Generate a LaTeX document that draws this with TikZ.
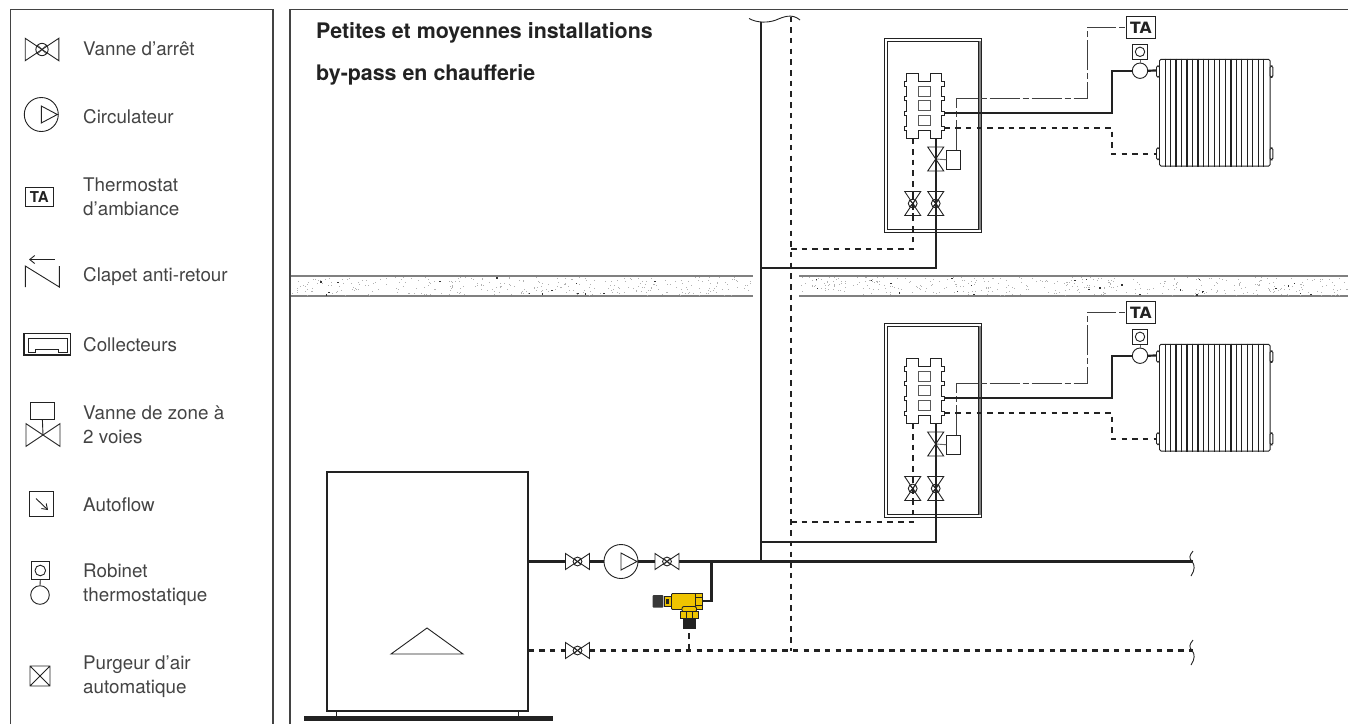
\documentclass[tikz,border=0pt]{standalone}
\usepackage{fontspec}
\setmainfont{TeX Gyre Heros}
\newfontfamily\heavyfont{DejaVu Sans}
\usetikzlibrary{arrows.meta}
\definecolor{ink}{HTML}{222222}
\definecolor{txt}{HTML}{444444}
\definecolor{brass}{HTML}{EFC400}
\tikzset{
  sym/.style={draw=ink,line width=0.9pt},
  frame/.style={draw=ink!85,line width=1.2pt},
  pipe/.style={draw=ink,line width=2.2pt},
  rpipe/.style={draw=ink,line width=2.2pt,dash pattern=on 5.5pt off 5.2pt},
  ctrl/.style={draw=ink,line width=0.8pt,dash pattern=on 30pt off 3pt on 6pt off 3pt},
  wall/.style={draw=black!50,line width=1.3pt},
  lab/.style={anchor=west,inner sep=0pt,text=txt,font=\fontsize{18.8}{24}\selectfont,align=left},
  title/.style={anchor=west,inner sep=0pt,text=ink,font=\fontsize{21.4}{24}\selectfont\bfseries},
  valvesym/.pic={
    \draw[sym,fill=white] (-12,-8)--(-12,8)--(12,-8)--(12,8)--cycle;
    \draw[sym] (0,0) circle (4.4pt);
    \draw[sym,line width=0.6pt] (-3,-3)--(3,3) (-3,3)--(3,-3);
    \coordinate (-w) at (-12,0); \coordinate (-e) at (12,0);
  },
  zonevalve/.pic={
    \draw[sym,fill=white] (-12,-8)--(-12,8)--(12,-8)--(12,8)--cycle;
    \coordinate (-w) at (-12,0); \coordinate (-e) at (12,0); \coordinate (-c) at (0,0);
  },
  pumpsym/.pic={
    \draw[sym,fill=white] (0,0) circle (17pt);
    \draw[sym] (0,-8.5)--(0,8.5)--(16,0)--cycle;
    \coordinate (-w) at (-17,0); \coordinate (-e) at (17,0);
  },
  radiator/.pic={
    \foreach \s in {1,...,19}{
      \pgfmathsetmacro\px{5.47*(\s-1)+5.6}
      \pgfmathsetmacro\lw{ifthenelse(iseven(\s),0.8,\s>12?1.5:1.2)}
      \draw[draw=ink,line width=\lw pt] (\px,-0.8)--(\px,107.6);
    }
    \draw[sym,rounded corners=1.5pt] (0,0) rectangle (110.6,106.8);
    \draw[sym,fill=white,rounded corners=1.5pt] (-3,6.5) rectangle (0,18);
    \draw[sym,fill=white,rounded corners=1.5pt] (-3,88.5) rectangle (0,100.5);
    \draw[sym,fill=white,rounded corners=1.5pt] (110.6,6.5) rectangle (113.3,18);
    \draw[sym,fill=white,rounded corners=1.5pt] (110.6,88.5) rectangle (113.3,100.5);
    \coordinate (-sup) at (-3,11.2); \coordinate (-ret) at (-3,94.7);
  },
}
\newcommand{\floorunit}{%
  % boxes
  \draw[sym] (884.7,38.7) rectangle (981,232);
  \draw[sym,line width=0.7pt] (887,41) rectangle (978.8,229.8);
  \draw[draw=black!50,line width=1.6pt] (979.7,41)--(979.7,230);
  % manifold
  \draw[sym,fill=white] (906.7,73.3)--(918.7,73.3)--(918.7,81.5)--(930,81.5)--(930,73.3)--(941.7,73.3)
    --(941.7,81.5)--(944.5,81.5)--(944.5,86)--(941.7,86)--(941.7,96.5)--(944.5,96.5)--(944.5,100.5)--(941.7,100.5)
    --(941.7,111)--(944.5,111)--(944.5,115)--(941.7,115)--(941.7,126)--(944.5,126)--(944.5,130)--(941.7,130)
    --(941.7,138.3)--(930,138.3)--(930,130)--(918.7,130)--(918.7,138.3)--(906.7,138.3)--(906.7,130)--(904,130)
    --(904,126)--(906.7,126)--(906.7,115)--(904,115)--(904,111)--(906.7,111)--(906.7,100.5)--(904,100.5)--(904,96.5)
    --(906.7,96.5)--(906.7,86)--(904,86)--(904,81.5)--(906.7,81.5)--cycle;
  \foreach \yy in {86,100.7,115.3}{\draw[sym,draw=black!65] (918.7,\yy) rectangle (930,\yy+10);}
  % fixed points
  \coordinate (mret) at (912.7,138.3);
  \coordinate (msup) at (935.7,138.3);
  \coordinate (mout) at (944.5,112.7);
  \coordinate (mrt) at (944.5,127.7);
  % valves
  \pic (zv) at (935.7,159) [rotate=90,yscale=1] {zonevalve};
  \pic (vr) at (912.7,203.5) [rotate=90] {valvesym};
  \pic (vs) at (935.7,203.5) [rotate=90] {valvesym};
  % actuator
  \node[sym,fill=white,minimum width=14pt,minimum height=18.7pt,inner sep=0pt] (act) at (953.7,159.7) {};
  \draw[sym,draw=black!60] (zv-c)--(act.west);
  % pipes
  \draw[pipe,line width=1.9pt] (msup)--(zv-w);
  \draw[pipe,line width=1.9pt] (zv-e)--(vs-w);
  \draw[rpipe] (mret)--(vr-w);
  % TA
  \node[sym,fill=white,minimum width=28.4pt,minimum height=21.3pt,inner sep=0pt,font=\fontsize{15.6}{16}\selectfont\heavyfont\bfseries,text=ink] (ta) at (1140.9,27.4) {TA};
  \coordinate (c1) at (956.7,98.7);
  \coordinate (c2) at (1087,98.7);
  \coordinate (c3) at (1087,27.4);
  \draw[ctrl,draw=black!75] (act.north -| c1)--(c1)--(c2)--(c3)--(ta.west);
  % radiator
  \pic (rad) at (1159.5,59.3) {radiator};
  % thermostatic valve
  \node[sym,fill=white,circle,minimum size=15.4pt,inner sep=0pt] (tv) at (1140,70.7) {};
  \node[sym,fill=white,minimum size=14.7pt,inner sep=0pt] (head) at (1140,51.8) {};
  \node[sym,circle,minimum size=9.4pt,inner sep=0pt] (headc) at (1140,51.8) {};
  \draw[sym,draw=black!60] (head.south)--(tv.north);
  \coordinate (s1) at (1111.7,112.7);
  \coordinate (s2) at (1111.7,70.7);
  \coordinate (r1) at (1111.7,127.7);
  \coordinate (r2) at (1111.7,154);
  \draw[pipe] (mout)--(s1)--(s2)--(tv.west);
  \draw[pipe] (tv.east)--(rad-sup);
  \draw[rpipe] (mrt)--(r1)--(r2)--(rad-ret);
}
\begin{document}
\begin{tikzpicture}[x=1pt,y=-1pt]
\path[use as bounding box,fill=white] (0,0) rectangle (1348,724);
% frames
\draw[frame] (10.5,724)--(10.5,9.5)--(273,9.5)--(273,724);
\draw[frame] (290,724)--(290,9.5)--(1348,9.5);
% legend
\pic (lv) at (42,49.5) [scale=1.4] {valvesym};
\pic (lp) at (41.3,114.5) {pumpsym};
\node[sym,line width=0.8pt,minimum width=28pt,minimum height=19pt,inner sep=0pt,font=\fontsize{15}{15}\selectfont\bfseries,text=ink] (lta) at (39.3,197.2) {TA};
\coordinate (la1) at (54.5,259.5); \coordinate (la2) at (29,259.5);
\draw[sym,-{Straight Barb[length=5pt,width=8pt]}] (la1)--(la2);
\coordinate (lc1) at (25.3,266); \coordinate (lc2) at (25.3,287); \coordinate (lc3) at (59.3,266); \coordinate (lc4) at (59.3,287);
\draw[sym] (lc2)--(lc1)--(lc4)--(lc3);
\draw[sym,line width=1.1pt] (24,333.3) rectangle (70.7,355);
\draw[sym] (28,352)--(28,338.5)--(67.7,338.5)--(67.7,352)--(58,352)--(58,349.5)--(35.7,349.5)--(35.7,352)--cycle;
\node[sym,minimum width=23.3pt,minimum height=17.3pt,inner sep=0pt] (lza) at (42.4,410.7) {};
\pic (lz) at (43,435) [scale=1.42] {zonevalve};
\draw[sym] (lza.south)--(lz-c);
\node[sym,minimum size=24.5pt,inner sep=0pt,line width=1pt] (laf) at (41.5,503.8) {};
\coordinate (lf1) at (36,498.5); \coordinate (lf2) at (48,510);
\draw[sym,-{Straight Barb[length=5pt,width=7pt]}] (lf1)--(lf2);
\node[sym,minimum size=17.5pt,inner sep=0pt] (lrh) at (40.3,570.5) {};
\node[sym,circle,minimum size=10.6pt,inner sep=0pt] (lrc) at (40.3,570.5) {};
\node[sym,circle,minimum size=18.6pt,inner sep=0pt] (lrv) at (40,595) {};
\draw[sym] (lrh.south)--(lrv.north);
\draw[sym] (30,666) rectangle (50,686) (30,666)--(50,686) (30,686)--(50,666);
\node[lab] (t1) at (83,49) {Vanne d’arrêt};
\node[lab] (t2) at (83,116.5) {Circulateur};
\node[lab] (t3) at (83,196.7) {Thermostat\\d’ambiance};
\node[lab] (t4) at (83,277) {Clapet anti-retour};
\node[lab] (t5) at (83,344.5) {Collecteurs};
\node[lab] (t6) at (83,424.5) {Vanne de zone à\\2 voies};
\node[lab] (t7) at (83,504.5) {Autoflow};
\node[lab] (t8) at (83,584.7) {Robinet\\thermostatique};
\node[lab] (t9) at (83,676.7) {Purgeur d’air\\automatique};
% heading
\node[title] (h1) at (316,33) {Petites et moyennes installations};
\node[title] (h2) at (316,75) {by-pass en chaufferie};
% wall
\draw[wall] (291,276)--(753,276) (291,296)--(753,296) (799,276)--(1348,276) (799,296)--(1348,296);
\pgfmathsetseed{11}
\foreach \i in {1,...,750}{
  \pgfmathsetmacro\wx{291+rnd*1057}
  \pgfmathsetmacro\wy{277+rnd*18}
  \pgfmathsetmacro\wg{rnd<0.06 ? 80 : 30}
  \pgfmathsetmacro\wz{\wg>50 ? 1.4 : 0.9}
  \pgfmathparse{(\wx<752||\wx>800)?1:0}
  \ifnum\pgfmathresult=1
    \fill[black!\wg] (\wx,\wy) rectangle +(\wz,\wz);
  \fi
}
% boiler
\node[sym,line width=1.1pt,minimum width=201pt,minimum height=239pt,inner sep=0pt] (boiler) at (427.5,591.5) {};
\draw[sym] (391,654)--(463,654)--(427,628)--cycle;
\draw[sym] (336.5,711)--(336.5,716) (518,711)--(518,716);
\fill[ink] (304,716) rectangle (553,721);
% floors
\begin{scope}[name prefix=up-]\floorunit\end{scope}
\begin{scope}[yshift=-285pt,name prefix=lo-]\floorunit\end{scope}
% main line fixings
\coordinate (top1) at (761,21.5);
\coordinate (top2) at (791,16.5);
\coordinate (mainT) at (761,561.5);
\coordinate (mainR) at (791,650.5);
\coordinate (uS) at (761,268);
\coordinate (uSb) at (935.7,268);
\coordinate (uR) at (791,249);
\coordinate (uRb) at (912.7,249);
\coordinate (lS) at (761,542);
\coordinate (lSb) at (935.7,542);
\coordinate (lR) at (791,522);
\coordinate (lRb) at (912.7,522);
\draw[pipe] (top1)--(mainT);
\draw[rpipe] (top2)--(mainR);
\draw[pipe] (uS)--(uSb)--(up-vs-e);
\draw[rpipe] (uR)--(uRb)--(up-vr-e);
\draw[pipe] (lS)--(lSb)--(lo-vs-e);
\draw[rpipe] (lR)--(lRb)--(lo-vr-e);
\draw[sym] (749,18.5) .. controls (757,23) and (768,23) .. (776,20) .. controls (783,17) and (792,13) .. (800,20);
% primary loop
\pic (v1) at (577.5,561.5) {valvesym};
\pic (pump) at (621,561.5) {pumpsym};
\pic (v2) at (667,561.5) {valvesym};
\pic (v3) at (577.5,650.5) {valvesym};
\coordinate (endS) at (1193,561.5);
\coordinate (endR) at (1193,650.5);
\coordinate (tee) at (711.5,561.5);
\coordinate (teeb) at (711.5,601);
\coordinate (dev) at (703,601);
\coordinate (devb) at (689,633);
\coordinate (devj) at (689,650.5);
\draw[pipe] (boiler.east |- v1-w)--(v1-w);
\draw[pipe] (v1-e)--(pump-w);
\draw[pipe] (pump-e)--(v2-w);
\draw[pipe] (v2-e)--(endS);
\draw[pipe] (tee)--(teeb)--(dev);
\draw[rpipe] (boiler.east |- v3-w)--(v3-w);
\draw[rpipe] (v3-e)--(endR);
\draw[rpipe] (devb)--(devj);
\draw[sym] (1193,551) .. controls (1189,556) and (1189,558) .. (1192,561.5) .. controls (1195,565) and (1195,570) .. (1191,576);
\draw[sym] (1193,640) .. controls (1189,645) and (1189,647) .. (1192,650.5) .. controls (1195,654) and (1195,659) .. (1191,665);
% yellow device
\fill[ink!90,rounded corners=1pt] (652.7,595) rectangle (663.3,607.7);
\draw[sym,fill=brass] (664,596.5) rectangle (671.5,606.5);
\fill[ink] (666,598.5) rectangle (669,604);
\draw[sym,fill=brass,rounded corners=1pt] (671.5,593.5) rectangle (696,609.5);
\draw[sym,fill=brass] (695.5,593) rectangle (702.5,609.5);
\draw[sym] (695.5,597)--(702.5,597) (695.5,605)--(702.5,605);
\draw[sym,fill=brass,rounded corners=2pt] (682,606.5) rectangle (696.5,612);
\draw[sym,fill=brass] (680,611.5) rectangle (698.5,618);
\draw[sym] (686,611.5)--(686,618) (692.5,611.5)--(692.5,618);
\fill[ink] (683,618) rectangle (696,629);
\end{tikzpicture}
\end{document}
